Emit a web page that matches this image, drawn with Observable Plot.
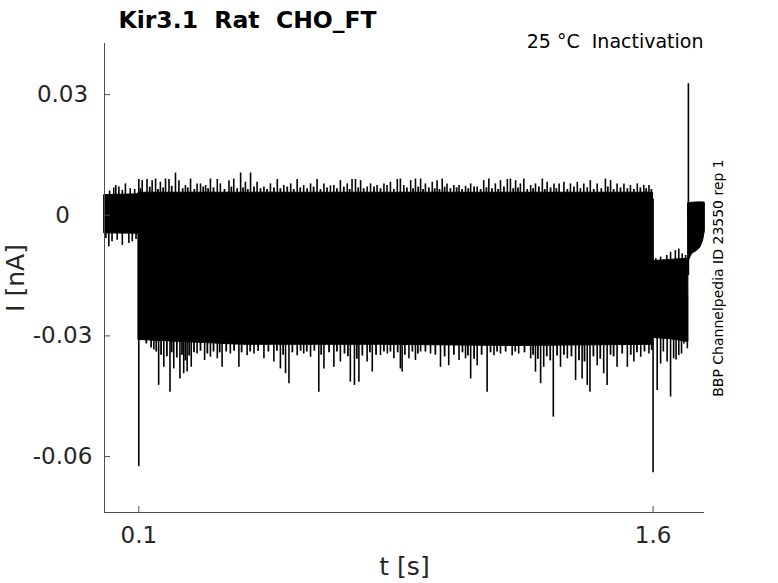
<!DOCTYPE html>
<html><head><meta charset="utf-8">
<script src="https://cdn.jsdelivr.net/npm/d3@7"></script>
<script src="https://cdn.jsdelivr.net/npm/@observablehq/plot@0.6"></script>
<style>
html,body{margin:0;padding:0;background:#fff;}
#chart{width:778px;height:583px;}
</style></head><body><div id="chart"></div>
<script>
// ---- text ----
const titleText = "Kir3.1  Rat  CHO_FT";
const subtitleText = "25 °C  Inactivation";
const sideText = "BBP Channelpedia ID 23550 rep 1";
const xLabel = "t [s]";
const yLabel = "I [nA]";

// ---- axes ----
const xDomain = [0, 1.75];
const yDomain = [-0.0739, 0.0427];
const xTicks = [0.1, 1.6];
const xTickLabels = ["0.1", "1.6"];
const yTicks = [0.03, 0, -0.03, -0.06];
const yTickLabels = ["0.03", "0", "-0.03", "-0.06"];

// ---- envelope of the overlaid sweeps (nA) ----
const preTime = [0, 0.1];
const preUpper = [0.0050, 0.0052];
const preLower = [-0.0045, -0.0046];

const mainTime = [0.1, 0.4, 0.8, 1.2, 1.6];
const mainUpper = [0.0056, 0.0056, 0.0056, 0.0056, 0.0056];
const mainLower = [-0.0310, -0.0322, -0.0322, -0.0325, -0.0322];

const stepTime = [1.6, 1.65, 1.703];
const stepUpper = [-0.0114, -0.0111, -0.0108];
const stepLower = [-0.0305, -0.0308, -0.0315];

const tailTime = [1.703, 1.714, 1.729, 1.738, 1.746, 1.751];
const tailUpper = [0.0030, 0.0031, 0.0032, 0.0032, 0.0032, 0.0031];
const tailLower = [-0.0115, -0.0096, -0.0088, -0.0080, -0.0063, -0.0040];

// ---- capacitive transients ----
const transientTime = [0.1, 1.6, 1.703];
const transientStart = [0.004, 0.004, -0.015];
const transientPeak = [-0.0625, -0.064, 0.0327];

// ---- upward noise spikes ----
const upTime = [0.015,0.027,0.033,0.042,0.052,0.061,0.075,0.088,
0.100,0.110,0.124,0.139,0.149,0.163,0.178,0.188,0.207,0.217,0.236,0.251,0.270,0.280,0.295,0.309,0.329,0.338,0.363,0.377,0.397,0.411,0.426,0.445,0.465,0.484,0.504,0.523,0.543,0.562,0.581,0.601,0.620,0.640,0.659,0.669,0.688,0.708,0.722,0.732,0.747,0.766,0.776,0.795,0.815,0.824,0.834,0.854,0.863,
0.873,0.893,0.907,0.922,0.936,0.956,0.970,0.985,0.999,1.019,1.034,1.053,1.068,1.087,1.106,1.121,1.140,1.155,1.175,1.184,1.199,1.213,1.223,1.243,1.257,1.277,1.291,1.311,1.326,1.340,1.359,1.379,1.398,1.417,1.437,1.461,1.476,1.495,1.515,1.534,1.554,1.573,1.588,
1.608,1.622,1.640,1.651,1.665,1.675,1.685,1.695];
const upPeak = [0.0060,0.0068,0.0074,0.0070,0.0062,0.0078,0.0066,0.0064,
0.0089,0.0086,0.0089,0.0086,0.0090,0.0082,0.0090,0.0089,0.0105,0.0086,0.0074,0.0090,0.0078,0.0078,0.0074,0.0090,0.0089,0.0078,0.0086,0.0090,0.0105,0.0082,0.0105,0.0082,0.0070,0.0078,0.0089,0.0074,0.0078,0.0089,0.0074,0.0078,0.0089,0.0078,0.0073,0.0074,0.0086,0.0078,0.0089,0.0089,0.0086,0.0070,0.0078,0.0074,0.0078,0.0074,0.0082,0.0089,0.0090,
0.0074,0.0086,0.0090,0.0090,0.0078,0.0082,0.0086,0.0090,0.0078,0.0074,0.0074,0.0072,0.0078,0.0070,0.0086,0.0090,0.0078,0.0086,0.0089,0.0090,0.0086,0.0078,0.0090,0.0074,0.0078,0.0090,0.0082,0.0078,0.0078,0.0082,0.0078,0.0082,0.0078,0.0086,0.0078,0.0090,0.0086,0.0078,0.0078,0.0074,0.0078,0.0074,0.0074,
-0.0108,-0.0104,-0.0100,-0.0092,-0.0088,-0.0084,-0.0096,-0.0100];

const upMinorTime = [0.105,0.132,0.156,0.171,0.196,0.228,0.243,0.262,0.288,0.302,0.318,0.350,0.370,0.387,0.404,0.418,0.436,0.455,0.474,0.494,0.513,0.533,0.552,0.571,0.591,0.610,0.630,0.649,0.678,0.698,0.715,0.740,0.756,0.786,0.805,0.844,0.882,0.900,0.915,0.929,0.946,0.963,0.977,0.992,1.009,1.027,1.043,1.061,1.078,1.097,1.114,1.130,1.148,1.165,1.192,1.206,1.233,1.250,1.267,1.284,1.301,1.318,1.350,1.369,1.388,1.408,1.427,1.449,1.468,1.485,1.505,1.525,1.544,1.563,1.580,1.595];
const upMinorPeak = [0.0066,0.0070,0.0064,0.0068,0.0072,0.0066,0.0068,0.0064,0.0070,0.0066,0.0068,0.0064,0.0070,0.0066,0.0068,0.0064,0.0070,0.0066,0.0064,0.0068,0.0066,0.0070,0.0064,0.0068,0.0066,0.0070,0.0064,0.0068,0.0066,0.0070,0.0064,0.0068,0.0066,0.0070,0.0066,0.0064,0.0068,0.0066,0.0070,0.0064,0.0068,0.0066,0.0064,0.0070,0.0066,0.0068,0.0064,0.0066,0.0070,0.0064,0.0068,0.0066,0.0064,0.0070,0.0066,0.0068,0.0064,0.0066,0.0070,0.0064,0.0068,0.0066,0.0064,0.0070,0.0066,0.0068,0.0064,0.0066,0.0070,0.0064,0.0068,0.0066,0.0064,0.0068,0.0066,0.0064];

// ---- downward noise spikes ----
const downTime = [0.004,0.0126,0.022,0.037,0.052,0.071,0.081,0.092,
0.144,0.158,0.173,0.191,0.202,0.220,0.231,0.241,0.253,0.270,0.292,0.309,0.329,0.343,0.367,0.392,0.416,0.436,0.465,0.494,0.513,0.528,0.538,0.562,0.581,0.601,0.625,0.640,0.669,0.688,0.717,0.729,0.742,0.766,0.781,0.805,0.825,0.844,0.863,
0.868,0.888,0.907,0.922,0.951,0.980,1.004,1.034,1.053,1.068,1.087,1.116,1.136,1.155,1.189,1.208,1.243,1.257,1.272,1.281,1.309,1.330,1.350,1.374,1.393,1.408,1.416,1.437,1.456,1.466,1.495,1.525,1.544,1.564,1.588,
1.612,1.622,1.630,1.641,1.651,1.660,1.667,1.675,1.683,1.690,1.700];
const downPeak = [-0.0058,-0.0078,-0.0066,-0.0062,-0.0075,-0.0070,-0.0066,-0.0060,
-0.0335,-0.0423,-0.0378,-0.0440,-0.0382,-0.0407,-0.0394,-0.0390,-0.0378,-0.0345,-0.0361,-0.0353,-0.0357,-0.0378,-0.0345,-0.0378,-0.0349,-0.0345,-0.0357,-0.0365,-0.0382,-0.0394,-0.0419,-0.0349,-0.0345,-0.0353,-0.0440,-0.0382,-0.0378,-0.0365,-0.0415,-0.0423,-0.0415,-0.0365,-0.0390,-0.0349,-0.0345,-0.0357,-0.0382,
-0.0390,-0.0357,-0.0361,-0.0340,-0.0345,-0.0378,-0.0374,-0.0361,-0.0357,-0.0407,-0.0374,-0.0440,-0.0349,-0.0345,-0.0349,-0.0345,-0.0357,-0.0390,-0.0419,-0.0378,-0.0502,-0.0378,-0.0357,-0.0411,-0.0407,-0.0423,-0.0440,-0.0374,-0.0394,-0.0423,-0.0378,-0.0378,-0.0365,-0.0353,-0.0345,
-0.0436,-0.0370,-0.0340,-0.0365,-0.0452,-0.0357,-0.0360,-0.0349,-0.0345,-0.0320,-0.0332];

const downMinorTime = [0.107,0.122,0.136,0.151,0.165,0.182,0.196,0.211,0.226,0.236,0.247,0.261,0.280,0.300,0.318,0.336,0.355,0.378,0.400,0.425,0.448,0.478,0.503,0.521,0.548,0.572,0.590,0.612,0.632,0.655,0.678,0.700,0.710,0.736,0.752,0.774,0.792,0.815,0.834,0.855,0.876,0.898,0.914,0.936,0.965,0.992,1.019,1.044,1.060,1.078,1.100,1.126,1.145,1.170,1.198,1.225,1.250,1.264,1.290,1.300,1.320,1.340,1.362,1.384,1.400,1.426,1.446,1.476,1.485,1.510,1.535,1.553,1.575,1.596];
const downMinorPeak = [-0.0295,-0.0320,-0.0330,-0.0340,-0.0348,-0.0352,-0.0342,-0.0355,-0.0348,-0.0362,-0.0350,-0.0342,-0.0338,-0.0345,-0.0340,-0.0342,-0.0340,-0.0338,-0.0342,-0.0340,-0.0338,-0.0340,-0.0338,-0.0348,-0.0342,-0.0338,-0.0340,-0.0338,-0.0348,-0.0342,-0.0340,-0.0345,-0.0352,-0.0358,-0.0350,-0.0342,-0.0348,-0.0340,-0.0340,-0.0342,-0.0348,-0.0340,-0.0345,-0.0340,-0.0348,-0.0352,-0.0348,-0.0342,-0.0350,-0.0358,-0.0348,-0.0342,-0.0340,-0.0340,-0.0340,-0.0342,-0.0348,-0.0358,-0.0352,-0.0362,-0.0350,-0.0348,-0.0352,-0.0362,-0.0365,-0.0352,-0.0358,-0.0348,-0.0352,-0.0345,-0.0348,-0.0342,-0.0340,-0.0336];

// ---- build tables ----
const band = (t, hi, lo) => t.map((d, i) => ({t: d, hi: hi[i], lo: lo[i]}));
const pts = (t, v) => t.map((d, i) => ({t: d, v: v[i]}));
const inner = t => (t < 0.1 ? 0 : t < 1.6 ? -0.012 : t < 1.703 ? -0.02 : -0.003);

const axisColor = "#4d4d4d";
const textColor = "#262626";
const ink = "#000";

const bandMarks = [band(preTime, preUpper, preLower), band(mainTime, mainUpper, mainLower),
  band(stepTime, stepUpper, stepLower), band(tailTime, tailUpper, tailLower)]
  .map(rows => Plot.areaY(rows, {x: "t", y1: "lo", y2: "hi", fill: ink, stroke: ink, strokeWidth: 1}));

const spikeRule = (rows, w) => Plot.ruleX(rows, {x: "t", y1: d => inner(d.t), y2: "v", stroke: ink, strokeWidth: w});

const chart = Plot.plot({
  width: 778, height: 583,
  marginLeft: 104, marginRight: 74, marginTop: 43, marginBottom: 71,
  style: {fontFamily: "'DejaVu Sans', sans-serif", background: "#fff", overflow: "visible"},
  x: {domain: xDomain, label: null},
  y: {domain: yDomain, label: null},
  marks: [
    ...bandMarks,
    spikeRule(pts(upMinorTime, upMinorPeak), 1.8),
    spikeRule(pts(downMinorTime, downMinorPeak), 1.8),
    spikeRule(pts(upTime, upPeak), 1.6),
    spikeRule(pts(downTime, downPeak), 1.6),
    Plot.ruleX(transientTime.map((t, i) => ({t, a: transientStart[i], b: transientPeak[i]})),
      {x: "t", y1: "a", y2: "b", stroke: ink, strokeWidth: 1.6}),
    // axis lines (box off: left and bottom only)
    Plot.ruleX([xDomain[0]], {stroke: axisColor, strokeWidth: 1}),
    Plot.ruleY([yDomain[0]], {stroke: axisColor, strokeWidth: 1}),
    // inward tick marks
    Plot.axisY(yTicks, {anchor: "left", tickSize: 6, dx: 6, tickFormat: () => "", stroke: axisColor}),
    Plot.axisX(xTicks, {anchor: "bottom", tickSize: 6, dy: -6, tickFormat: () => "", stroke: axisColor}),
    // tick labels
    Plot.axisY(yTicks, {anchor: "left", tickSize: 0, tickPadding: 42, textAnchor: "middle",
      tickFormat: d => yTickLabels[yTicks.indexOf(d)], fontSize: 23, color: textColor}),
    Plot.axisX(xTicks, {anchor: "bottom", tickSize: 0, tickPadding: 14,
      tickFormat: d => xTickLabels[xTicks.indexOf(d)], fontSize: 23, color: textColor}),
    // axis titles
    Plot.text([yLabel], {text: d => d, frameAnchor: "left", dx: -81, rotate: -90, textAnchor: "middle",
      lineAnchor: "bottom", fontSize: 25, fill: textColor}),
    Plot.text([xLabel], {text: d => d, frameAnchor: "bottom", dy: 62, textAnchor: "middle",
      lineAnchor: "bottom", fontSize: 25, fill: textColor}),
    // titles
    Plot.text([titleText], {text: d => d, frameAnchor: "top-left", dx: 14, dy: -16, textAnchor: "start",
      lineAnchor: "bottom", fontSize: 23.5, fontWeight: "bold", fill: ink}),
    Plot.text([subtitleText], {text: d => d, frameAnchor: "top-right", dx: -1, dy: 4, textAnchor: "end",
      lineAnchor: "bottom", fontSize: 19, fill: ink}),
    Plot.text([sideText], {text: d => d, frameAnchor: "right", dx: 18, rotate: -90, textAnchor: "middle",
      lineAnchor: "bottom", fontSize: 14, fill: ink})
  ]
});
document.getElementById("chart").appendChild(chart);
</script></body></html>
